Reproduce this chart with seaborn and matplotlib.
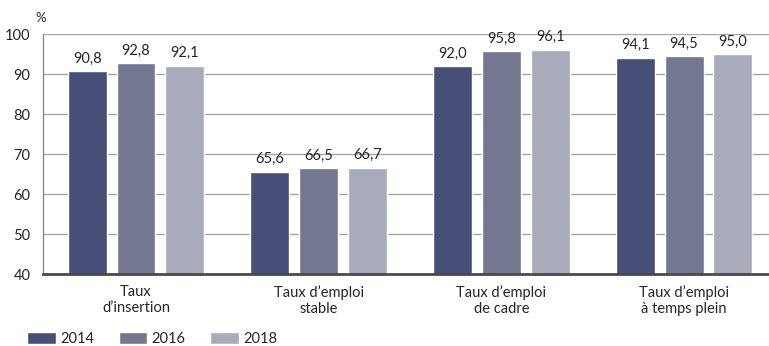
import matplotlib
matplotlib.use("Agg")
import matplotlib.pyplot as plt
import seaborn as sns
import pandas as pd

categories = ["Taux\nd\u2019insertion", "Taux d\u2019emploi\nstable",
              "Taux d\u2019emploi\nde cadre", "Taux d\u2019emploi\n\u00e0 temps plein"]
years = ["2014", "2016", "2018"]
values_2014 = [90.8, 65.6, 92.0, 94.1]
values_2016 = [92.8, 66.5, 95.8, 94.5]
values_2018 = [92.1, 66.7, 96.1, 95.0]
colors = ["#474f78", "#737790", "#a8abb9"]

rows = []
for year, vals in zip(years, [values_2014, values_2016, values_2018]):
    for cat, v in zip(categories, vals):
        rows.append({"cat": cat, "year": year, "val": v})
df = pd.DataFrame(rows)

sns.set_theme(style="white")
plt.rcParams["font.family"] = ["Lato", "DejaVu Sans"]
text_color = "#262626"

fig = plt.figure(figsize=(7.69, 3.46), dpi=100)
ax = fig.add_axes([43 / 769, 1 - 274.3 / 346, (769 - 43) / 769, 240 / 346])

sns.barplot(data=df, x="cat", y="val", hue="year", order=categories,
            hue_order=years, palette=colors, width=0.8, gap=0.2,
            saturation=1, ax=ax, legend=True)

ax.set_ylim(40, 100)
ax.set_xlim(-0.509, 3.465)
ax.set_yticks(range(40, 101, 10))
ax.yaxis.grid(True, color="#a6a6a6", linewidth=1.0)
ax.set_axisbelow(True)
ax.set_xlabel("")
ax.set_ylabel("")
ax.tick_params(axis="y", length=0, pad=9, labelsize=10.5, labelcolor=text_color)
ax.tick_params(axis="x", length=0, pad=8, labelsize=10.5, labelcolor=text_color)
for lbl in ax.get_xticklabels():
    lbl.set_linespacing(1.15)

for side in ["top", "right"]:
    ax.spines[side].set_visible(False)
ax.spines["left"].set_color("#8c8c8c")
ax.spines["left"].set_linewidth(1.0)
ax.spines["bottom"].set_color("#4a4a4a")
ax.spines["bottom"].set_linewidth(2.0)

for cont in ax.containers:
    ax.bar_label(cont, labels=[f"{b.get_height():.1f}".replace(".", ",") for b in cont],
                 padding=4, fontsize=10.5, color=text_color)

ax.text(-0.01, 1.045, "%", transform=ax.transAxes, fontsize=9.5,
        color=text_color, ha="left", va="bottom")

handles, labels = ax.get_legend_handles_labels()
ax.get_legend().remove()
fig.legend(handles, labels, loc="center left", bbox_to_anchor=(14 / 769, 1 - 339 / 346),
           ncol=3, frameon=False, fontsize=10.5, handlelength=1.95, handleheight=0.9,
           handletextpad=0.3, columnspacing=1.7, labelcolor=text_color)

fig.savefig("out.png", dpi=100)
